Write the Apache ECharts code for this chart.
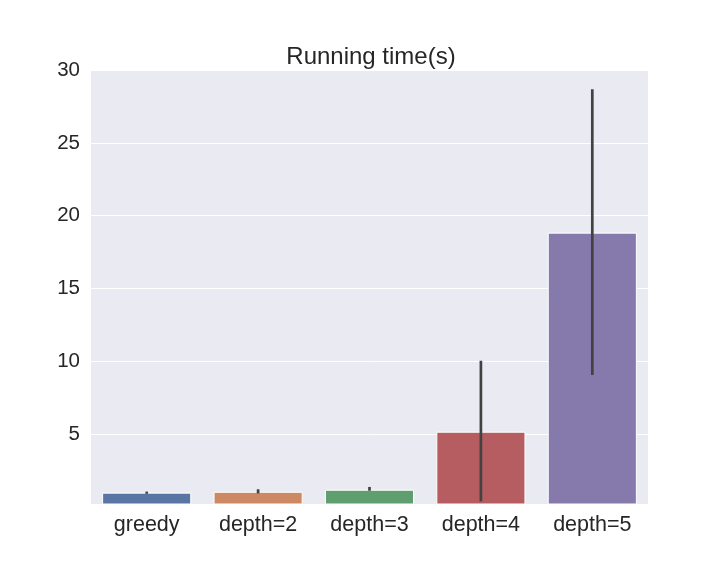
<!DOCTYPE html>
<html>
<head>
<meta charset="utf-8">
<script src="https://cdn.jsdelivr.net/npm/echarts@6/dist/echarts.min.js"></script>
<style>
  html, body { margin: 0; padding: 0; background: #fff; }
  #chart { width: 720px; height: 576px; }
</style>
</head>
<body>
<div id="chart"></div>
<script>
// 数据
const categories = ['greedy', 'depth=2', 'depth=3', 'depth=4', 'depth=5'];
const meanTime = [1.0, 1.06, 1.2, 5.18, 18.84];
const errLow = [0.92, 0.95, 1.13, 0.4, 9.07];
const errHigh = [1.07, 1.23, 1.39, 10.05, 28.68];
const barColors = ['#5975a4', '#cc8963', '#5f9e6e', '#b55d60', '#857aab'];

const chart = echarts.init(document.getElementById('chart'));
const font = 'Liberation Sans, Arial, sans-serif';

chart.setOption({
    backgroundColor: '#ffffff',
    animation: false,
    title: {
        text: 'Running time(s)',
        left: 366,
        textAlign: 'center',
        top: 40,
        textStyle: { fontFamily: font, fontSize: 24, fontWeight: 'normal', color: '#262626' }
    },
    grid: { left: 91, right: 72, top: 70, bottom: 72, show: true, backgroundColor: '#eaeaf2', borderWidth: 0 },
    xAxis: {
        type: 'category',
        data: categories,
        axisLine: { show: false },
        axisTick: { show: false },
        axisLabel: { fontFamily: font, fontSize: 21.5, color: '#262626', margin: 10 }
    },
    yAxis: {
        type: 'value',
        min: 0.22,
        max: 30,
        minInterval: 5,
        maxInterval: 5,
        axisLine: { show: false },
        axisTick: { show: false },
        splitLine: { lineStyle: { color: '#ffffff', width: 1 } },
        axisLabel: {
            fontFamily: font, fontSize: 20.5, color: '#262626', margin: 11,
            formatter: v => (Math.abs(v % 5) < 1e-6 ? String(v) : '')
        }
    },
    series: [
        {
            type: 'bar',
            barCategoryGap: '20%',
            data: meanTime.map((v, i) => ({
                value: v,
                itemStyle: { color: barColors[i], borderColor: '#ffffff', borderWidth: 1 }
            }))
        },
        {
            // 误差线
            type: 'custom',
            data: categories.map((c, i) => [i, errLow[i], errHigh[i]]),
            renderItem: (params, api) => {
                const lo = api.coord([api.value(0), api.value(1)]);
                const hi = api.coord([api.value(0), api.value(2)]);
                return {
                    type: 'line',
                    shape: { x1: lo[0], y1: lo[1], x2: hi[0], y2: hi[1] },
                    style: { stroke: '#424242', lineWidth: 2.7 }
                };
            },
            z: 10
        }
    ]
});
</script>
</body>
</html>
